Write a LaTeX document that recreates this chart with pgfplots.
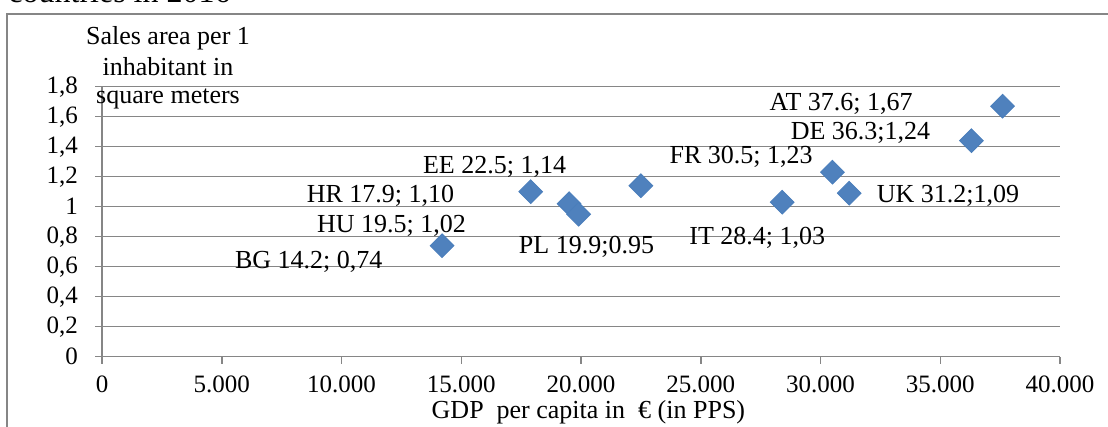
\documentclass[border=0pt]{standalone}
\usepackage{fontspec}
\setmainfont{Liberation Serif}
\usepackage{pgfplots}
\pgfplotsset{compat=1.18}
\definecolor{axisgray}{HTML}{868686}
\definecolor{markblue}{HTML}{4F81BD}
\definecolor{markedge}{HTML}{4A7EBB}
\begin{document}
\fontsize{13}{15}\selectfont
\begin{tikzpicture}
\path[use as bounding box, clip] (0,0) rectangle (554pt,213.5pt);
% outer chart frame and the caption above it
\draw[axisgray, line width=0.75pt] (3.5pt,-5pt) -- (3.5pt,206.5pt) -- (600pt,206.5pt);
\node[anchor=base west, font=\fontsize{16}{18}\selectfont, inner sep=0pt] at (4pt,212pt) {countries in 2016};
\begin{axis}[
  at={(51pt,35.15pt)}, anchor=south west,
  scale only axis, width=479pt, height=135pt,
  xmin=0, xmax=40000, ymin=0, ymax=1.8,
  axis x line*=bottom, axis y line*=left,
  axis line style={axisgray, line width=0.75pt},
  xtick={0,5000,10000,15000,20000,25000,30000,35000,40000},
  ytick={0,0.2,0.4,0.6,0.8,1,1.2,1.4,1.6,1.8},
  tick align=outside, major tick length=3.5pt,
  tick style={axisgray, line width=0.75pt},
  ymajorgrids, grid style={axisgray, line width=0.75pt},
  scaled x ticks=false,
  tick label style={font=\fontsize{12.5}{14}\selectfont},
  /pgf/number format/assume math mode=true,
  xticklabel style={yshift=-1.5pt, /pgf/number format/.cd, fixed, 1000 sep={.}},
  yticklabel style={xshift=-4pt, /pgf/number format/.cd, fixed, use comma},
  clip=false,
  every node/.append style={font=\fontsize{13}{15}\selectfont},
]
\addplot[only marks, mark=square*, mark size=4.2pt,
  mark options={rotate=45, fill=markblue, draw=markedge, line width=0.4pt}]
  table {
    x     y
    14200 0.74
    17900 1.10
    19500 1.02
    19900 0.95
    22500 1.14
    28400 1.03
    30500 1.23
    31200 1.09
    36300 1.44
    37600 1.67
  };
% country labels, set on their baselines
\node[anchor=base] at (axis cs:30860,1.638) {AT 37.6; 1,67};
\node[anchor=base] at (axis cs:31670,1.451) {DE 36.3;1,24};
\node[anchor=base] at (axis cs:26690,1.285) {FR 30.5; 1,23};
\node[anchor=base] at (axis cs:35320,1.031) {UK 31.2;1,09};
\node[anchor=base] at (axis cs:16390,1.218) {EE 22.5; 1,14};
\node[anchor=base] at (axis cs:11630,1.025) {HR 17.9; 1,10};
\node[anchor=base] at (axis cs:12090,0.831) {HU 19.5; 1,02};
\node[anchor=base] at (axis cs:8630,0.591) {BG 14.2; 0,74};
\node[anchor=base] at (axis cs:20230,0.691) {PL 19.9;0.95};
\node[anchor=base] at (axis cs:27360,0.751) {IT 28.4; 1,03};
\node[anchor=base] at (axis cs:20310,-0.415) {GDP\ \ per capita in\ \ € (in PPS)};
\end{axis}
% y axis title in three lines
\node[anchor=base] at (84pt,191pt) {Sales area per 1};
\node[anchor=base] at (84pt,175.5pt) {inhabitant in};
\node[anchor=base] at (84pt,161.5pt) {square meters};
\end{tikzpicture}
\end{document}
